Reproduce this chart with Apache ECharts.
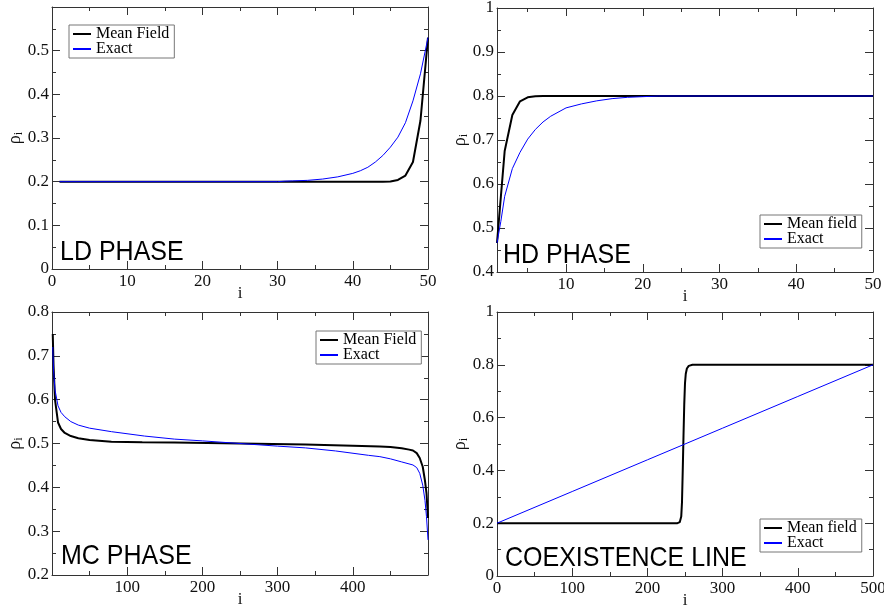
<!DOCTYPE html>
<html><head><meta charset="utf-8">
<script src="https://cdn.jsdelivr.net/npm/echarts@6/dist/echarts.min.js"></script>
<style>html,body{margin:0;padding:0;background:#fff}#c{width:884px;height:608px}</style>
</head><body><div id="c"></div>
<script>
// ---------- data ----------
// LD phase
const ldMeanI   = [1, 44, 45, 46, 47, 48, 49, 50];
const ldMeanRho = [0.2, 0.2, 0.2005, 0.204, 0.214, 0.245, 0.34, 0.53];
const ldExactI   = [1, 30, 31, 32, 34, 36, 38, 40, 41, 42, 43, 44, 45, 46, 47, 48, 49, 50];
const ldExactRho = [0.2, 0.2, 0.2012, 0.2018, 0.203, 0.206, 0.211, 0.219, 0.225, 0.233, 0.245, 0.26, 0.279, 0.302, 0.335, 0.385, 0.447, 0.53];
// HD phase
const hdMeanI   = [1, 2, 3, 4, 5, 6, 7, 50];
const hdMeanRho = [0.466, 0.675, 0.757, 0.788, 0.797, 0.7995, 0.8, 0.8];
const hdExactI   = [1, 1.5, 2, 3, 4, 5, 6, 7, 8, 10, 12, 14, 16, 18, 20, 22, 50];
const hdExactRho = [0.466, 0.515, 0.572, 0.635, 0.672, 0.702, 0.724, 0.741, 0.754, 0.773, 0.782, 0.789, 0.794, 0.797, 0.7985, 0.8, 0.8];
// MC phase
const mcMeanI   = [1, 2, 4, 8, 12, 17, 25, 35, 50, 79, 120, 163, 250, 337, 400, 436, 450, 465, 475, 480, 485, 489, 493, 496, 498, 500];
const mcMeanRho = [0.75, 0.68, 0.60, 0.548, 0.533, 0.524, 0.517, 0.512, 0.508, 0.504, 0.503, 0.502, 0.5, 0.498, 0.495, 0.493, 0.492, 0.489, 0.486, 0.484, 0.478, 0.467, 0.447, 0.415, 0.387, 0.33];
const mcExactI   = [1, 2, 4, 8, 12, 17, 25, 35, 50, 79, 123, 163, 200, 250, 300, 337, 377, 421, 436, 450, 465, 480, 485, 489, 493, 496, 498, 500];
const mcExactRho = [0.72, 0.668, 0.622, 0.586, 0.571, 0.561, 0.55, 0.542, 0.535, 0.527, 0.517, 0.51, 0.506, 0.5, 0.494, 0.49, 0.483, 0.473, 0.47, 0.465, 0.458, 0.451, 0.445, 0.432, 0.405, 0.37, 0.333, 0.28];
// Coexistence line
const coMeanI   = [0, 240, 243, 245, 246, 247, 248, 249, 250, 251, 252.5, 255, 260, 500];
const coMeanRho = [0.2, 0.2, 0.204, 0.225, 0.28, 0.4, 0.53, 0.65, 0.73, 0.765, 0.786, 0.796, 0.8, 0.8];
const coExactI   = [0, 100, 200, 250, 300, 400, 500];
const coExactRho = [0.2, 0.32, 0.44, 0.5, 0.56, 0.68, 0.8];
// tick labels
const ldXTicks = [0, 10, 20, 30, 40, 50];
const ldYTicks = [0, 0.1, 0.2, 0.3, 0.4, 0.5];
const hdXTicks = [10, 20, 30, 40, 50];
const hdXMinor = [5, 15, 25, 35, 45];
const hdYTicks = [0.4, 0.5, 0.6, 0.7, 0.8, 0.9, 1];
const mcXTicks = [100, 200, 300, 400];
const mcYTicks = [0.2, 0.3, 0.4, 0.5, 0.6, 0.7, 0.8];
const coXTicks = [0, 100, 200, 300, 400, 500];
const coYTicks = [0, 0.2, 0.4, 0.6, 0.8, 1];
// text
const phaseNames = ['LD PHASE', 'HD PHASE', 'MC PHASE', 'COEXISTENCE LINE'];
const legendNames = [['Mean Field', 'Exact'], ['Mean field', 'Exact'], ['Mean Field', 'Exact'], ['Mean field', 'Exact']];

// ---------- layout / style ----------
const serif = '"Liberation Serif","Times New Roman",serif';
const sans = '"Liberation Sans",Arial,sans-serif';
const grids = [
  {left: 52, top: 7, width: 376, height: 262, outerBoundsMode: 'none'},
  {left: 497, top: 8, width: 376, height: 264, outerBoundsMode: 'none'},
  {left: 52, top: 312, width: 376, height: 263, outerBoundsMode: 'none'},
  {left: 497, top: 312, width: 376, height: 264, outerBoundsMode: 'none'}
];
const panels = [
  {x: {min: 0, max: 50, interval: 10, labels: ldXTicks}, y: {min: 0, max: 0.6, interval: 0.1, labels: ldYTicks},
   mean: [ldMeanI, ldMeanRho], exact: [ldExactI, ldExactRho]},
  {x: {min: 1, max: 50, major: hdXTicks, minor: hdXMinor, labels: hdXTicks}, y: {min: 0.4, max: 1, interval: 0.1, labels: hdYTicks},
   mean: [hdMeanI, hdMeanRho], exact: [hdExactI, hdExactRho]},
  {x: {min: 0, max: 500, interval: 100, labels: mcXTicks}, y: {min: 0.2, max: 0.8, interval: 0.1, labels: mcYTicks},
   mean: [mcMeanI, mcMeanRho], exact: [mcExactI, mcExactRho]},
  {x: {min: 0, max: 500, interval: 100, labels: coXTicks}, y: {min: 0, max: 1, interval: 0.2, labels: coYTicks},
   mean: [coMeanI, coMeanRho], exact: [coExactI, coExactRho]}
];
const legendPos = [{left: 69, top: 25}, {left: 760, top: 215}, {left: 316, top: 331}, {left: 760, top: 519}];
const phasePos = [[60, 252], [503, 255], [61, 556.5], [505, 558]];

const frame = () => ({color: '#333', width: 1});
const labStyle = () => ({fontFamily: serif, fontSize: 17, color: '#111'});
function pairs(xs, ys) { return xs.map((x, k) => [x, ys[k]]); }

const xAxis = [], yAxis = [], series = [];
panels.forEach((p, g) => {
  function makeAxes(dim, list) {
    const a = p[dim];
    const base = () => {
      const b = {type: 'value', gridIndex: g, min: a.min, max: a.max, splitLine: {show: false},
        axisLine: {show: true, onZero: false, lineStyle: frame()}};
      if (a.interval) {
        b.interval = a.interval;
        b.axisTick = {show: true, inside: true, length: 8, lineStyle: frame()};
        b.minorTick = {show: true, splitNumber: 2, length: 4, lineStyle: frame()};
      } else {
        b.axisTick = {show: true, inside: true, length: 8, lineStyle: frame(), customValues: a.major};
      }
      return b;
    };
    const main = base();
    const mainIdx = list.length;
    main.position = dim === 'x' ? 'bottom' : 'left';
    main.axisLabel = Object.assign({show: true, customValues: a.labels, margin: dim === 'x' ? 4 : 3}, labStyle());
    main.nameMoveOverlap = false;
    if (dim === 'x') {
      main.name = 'i'; main.nameLocation = 'middle'; main.nameGap = 16;
      main.nameTextStyle = {fontFamily: serif, fontSize: 17, color: '#111'};
    } else {
      main.name = '{r|ρ}{s|i}'; main.nameLocation = 'middle'; main.nameGap = 27;
      main.nameTextStyle = {rich: {
        r: {fontFamily: serif, fontSize: 18, color: '#111', lineHeight: 20, verticalAlign: 'middle'},
        s: {fontFamily: serif, fontSize: 12, color: '#111', lineHeight: 20, verticalAlign: 'bottom'}
      }};
    }
    list.push(main);
    const opp = base();
    opp.position = dim === 'x' ? 'top' : 'right';
    opp.axisLabel = {show: false};
    list.push(opp);
    if (a.minor) {
      ['bottom', 'top'].forEach(pos => {
        list.push({type: 'value', gridIndex: g, min: a.min, max: a.max, position: pos,
          splitLine: {show: false}, axisLine: {show: false}, axisLabel: {show: false},
          axisTick: {show: true, inside: true, length: 4, lineStyle: frame(), customValues: a.minor}});
      });
    }
    return mainIdx;
  }
  const xi = makeAxes('x', xAxis);
  const yi = makeAxes('y', yAxis);
  series.push({type: 'line', name: legendNames[g][0], xAxisIndex: xi, yAxisIndex: yi,
    data: pairs(p.mean[0], p.mean[1]), symbol: 'none', showSymbol: false, color: '#000',
    lineStyle: {color: '#000', width: 2}, z: 2, silent: true});
  series.push({type: 'line', name: legendNames[g][1], xAxisIndex: xi, yAxisIndex: yi,
    data: pairs(p.exact[0], p.exact[1]), symbol: 'none', showSymbol: false, color: '#0000ff',
    lineStyle: {color: '#0000ff', width: 1}, z: 3, silent: true});
});

const legend = legendPos.map((pos, g) => ({
  left: pos.left, top: pos.top, orient: 'vertical', data: legendNames[g],
  icon: 'rect', itemWidth: 18, itemHeight: 2, itemGap: -1, padding: [1, 5, 1, 4],
  borderColor: '#777', borderWidth: 1, backgroundColor: '#fff', selectedMode: false,
  textStyle: {fontFamily: serif, fontSize: 16, color: '#000', lineHeight: 15}
}));

const graphic = phaseNames.map((t, g) => ({
  type: 'text', x: phasePos[g][0], y: phasePos[g][1], scaleY: 1.1, z: 10,
  style: {text: t, font: '25px ' + sans, fill: '#000', textVerticalAlign: 'middle',
    shadowColor: 'rgba(240,150,40,0.75)', shadowOffsetX: -1, shadowOffsetY: 1, shadowBlur: 0}
}));

const chart = echarts.init(document.getElementById('c'), null, {renderer: 'canvas'});
chart.setOption({animation: false, backgroundColor: '#fff', grid: grids, xAxis, yAxis, series, legend, graphic});
</script></body></html>
